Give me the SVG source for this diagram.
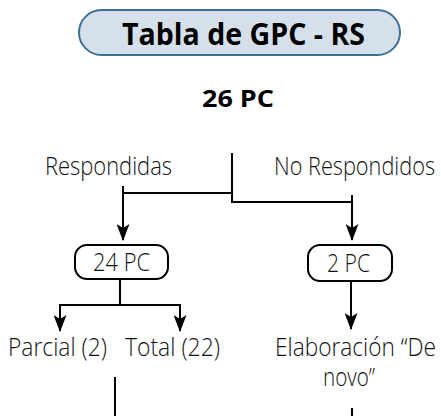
<svg xmlns="http://www.w3.org/2000/svg" width="441" height="416" viewBox="0 0 441 416">
<style>
.lbl{font-family:"Open Sans","Noto Sans","Liberation Sans",sans-serif;font-weight:300;font-size:25px;fill:#111}
.ttl{font-family:"Open Sans","Noto Sans","Liberation Sans",sans-serif;font-weight:700;fill:#000}
.ln{fill:none;stroke:#000;stroke-width:2}
.box{fill:#fff;stroke:#000;stroke-width:2}
</style>
<defs>
<marker id="ah" viewBox="0 0 17 13" refX="16" refY="6.5" markerWidth="17" markerHeight="13" markerUnits="userSpaceOnUse" orient="auto">
<path d="M0,0 L4,6.5 L0,13 L17,6.5 Z" fill="#000"/>
</marker>
</defs>
<rect width="441" height="416" fill="#fff"/>
<g id="title">
<rect x="79" y="10" width="321" height="45" rx="22.5" fill="#d6e0ea" stroke="#3f6f93" stroke-width="2"/>
<text class="ttl" x="122" y="45" font-size="31" textLength="243" lengthAdjust="spacingAndGlyphs">Tabla de GPC - RS</text>
</g>
<g id="total">
<text class="ttl" x="202" y="107" font-size="24" textLength="72" lengthAdjust="spacingAndGlyphs">26 PC</text>
</g>
<g id="respondidas"><text class="lbl" x="45" y="175" textLength="127" lengthAdjust="spacingAndGlyphs">Respondidas</text></g>
<g id="norespondidos"><text class="lbl" x="274" y="175" textLength="161" lengthAdjust="spacingAndGlyphs">No Respondidos</text></g>
<g id="pc24">
<rect class="box" x="75" y="245" width="93" height="34" rx="12"/>
<text class="lbl" x="93" y="271" textLength="57" lengthAdjust="spacingAndGlyphs">24 PC</text>
</g>
<g id="pc2">
<rect class="box" x="308" y="245" width="84" height="36" rx="12"/>
<text class="lbl" x="327" y="272" textLength="43" lengthAdjust="spacingAndGlyphs">2 PC</text>
</g>
<g id="parcial"><text class="lbl" x="8" y="356" textLength="99" lengthAdjust="spacingAndGlyphs">Parcial (2)</text></g>
<g id="totalp"><text class="lbl" x="125" y="356" textLength="95" lengthAdjust="spacingAndGlyphs">Total (22)</text></g>
<g id="elaboracion">
<text class="lbl" x="275" y="356" textLength="161" lengthAdjust="spacingAndGlyphs">Elaboración “De</text>
<text class="lbl" x="323" y="386" textLength="52" lengthAdjust="spacingAndGlyphs">novo”</text>
</g>
<g id="connectors">
<path class="ln" d="M232,153 V202 H352"/>
<path class="ln" d="M123,193 H232"/>
<path class="ln" d="M123,186 V240" marker-end="url(#ah)"/>
<path class="ln" d="M352,195 V240" marker-end="url(#ah)"/>
<path class="ln" d="M120,279 V305"/>
<path class="ln" d="M60,305 H180"/>
<path class="ln" d="M60,304 V331" marker-end="url(#ah)"/>
<path class="ln" d="M180,304 V331" marker-end="url(#ah)"/>
<path class="ln" d="M351,281 V329" marker-end="url(#ah)"/>
<path class="ln" d="M115,377 V416"/>
<path class="ln" d="M352,408 V416"/>
</g>
</svg>
